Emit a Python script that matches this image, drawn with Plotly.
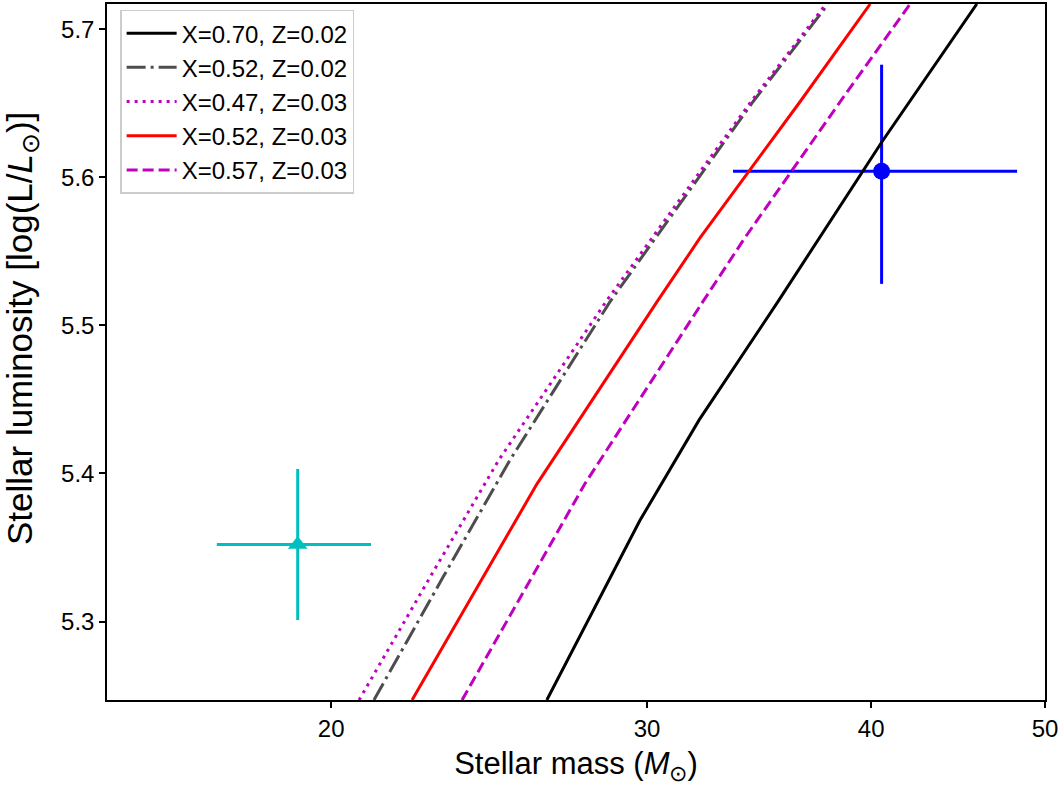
import math
import plotly.graph_objects as go

# ---- data ----
labels = ["X=0.70, Z=0.02", "X=0.52, Z=0.02", "X=0.47, Z=0.03", "X=0.52, Z=0.03", "X=0.57, Z=0.03"]

m_x70_z02 = [26.38, 29.72, 32.07, 35.49, 40.56, 45.81]
l_x70_z02 = [5.247, 5.368, 5.436, 5.516, 5.624, 5.717]

m_x52_z02 = [21.13, 23.09, 25.16, 28.61, 32.11, 34.37, 37.85]
l_x52_z02 = [5.247, 5.330, 5.409, 5.516, 5.601, 5.651, 5.717]

m_x47_z03 = [20.73, 22.71, 24.80, 28.46, 31.99, 34.28, 37.75]
l_x47_z03 = [5.247, 5.330, 5.409, 5.516, 5.601, 5.651, 5.717]

m_x52_z03 = [22.19, 26.05, 30.39, 32.11, 36.51, 39.95]
l_x52_z03 = [5.247, 5.393, 5.516, 5.559, 5.651, 5.717]

m_x57_z03 = [23.66, 27.70, 32.23, 34.01, 38.44, 42.05]
l_x57_z03 = [5.247, 5.393, 5.516, 5.559, 5.651, 5.717]

# observed points
star_a_mass = [40.54]
star_a_mass_err_plus = [7.70]
star_a_mass_err_minus = [7.04]
star_a_lum = [5.604]
star_a_lum_err_plus = [0.072]
star_a_lum_err_minus = [0.076]

star_b_mass = [19.16]
star_b_mass_err = [1.89]
star_b_lum = [5.352]
star_b_lum_err = [0.051]

x_ticks = [20, 30, 40, 50]
x_range = [15, 50]
y_range = [5.247, 5.717]

x_title = "Stellar mass (<i>M</i><sub>⊙</sub>)"
y_title = "Stellar luminosity [log(L/<i>L</i><sub>⊙</sub>)]"

FONT = "Liberation Sans, Arial, Helvetica, sans-serif"

fig = go.Figure()

# error-bar points
fig.add_trace(go.Scatter(
    x=star_b_mass, y=star_b_lum, mode="markers", showlegend=False,
    marker=dict(symbol="triangle-up", size=17, color="#00bfbf"),
    error_x=dict(type="data", array=star_b_mass_err, color="#00bfbf", thickness=3, width=0),
    error_y=dict(type="data", array=star_b_lum_err, color="#00bfbf", thickness=3, width=0),
))
fig.add_trace(go.Scatter(
    x=star_a_mass, y=star_a_lum, mode="markers", showlegend=False,
    marker=dict(symbol="circle", size=17, color="#0000ff"),
    error_x=dict(type="data", symmetric=False, array=star_a_mass_err_plus,
                 arrayminus=star_a_mass_err_minus, color="#0000ff", thickness=3, width=0),
    error_y=dict(type="data", symmetric=False, array=star_a_lum_err_plus,
                 arrayminus=star_a_lum_err_minus, color="#0000ff", thickness=3, width=0),
))

series = [
    (m_x70_z02, l_x70_z02, labels[0], "#000000", "solid"),
    (m_x52_z02, l_x52_z02, labels[1], "#4d4d4d", "19px,5px,3px,5px"),
    (m_x47_z03, l_x47_z03, labels[2], "#bf00bf", "3px,5px"),
    (m_x52_z03, l_x52_z03, labels[3], "#ff0000", "solid"),
    (m_x57_z03, l_x57_z03, labels[4], "#bf00bf", "11px,5px"),
]
for mx, ly, name, col, dash in series:
    fig.add_trace(go.Scatter(
        x=mx, y=ly, mode="lines", name=name,
        line=dict(color=col, width=3, dash=dash),
    ))

axis_common = dict(
    showgrid=False, zeroline=False, showline=True, linecolor="black", linewidth=1.5,
    mirror=True, ticks="outside", ticklen=6, tickwidth=1.5, tickcolor="black",
    tickfont=dict(family=FONT, size=24, color="black"),
)

fig.update_layout(
    width=1064, height=789,
    margin=dict(l=107, r=19, t=2, b=89),
    paper_bgcolor="white", plot_bgcolor="white",
    font=dict(family=FONT, color="black"),
    xaxis=dict(
        type="log", range=[math.log10(x_range[0]), math.log10(x_range[1])],
        tickvals=x_ticks, ticktext=[str(t) for t in x_ticks],
        title=dict(text=x_title, font=dict(family=FONT, size=31), standoff=12),
        **axis_common,
    ),
    yaxis=dict(
        range=y_range, dtick=0.1, tick0=5.3, tickformat=".1f",
        **axis_common,
    ),
    legend=dict(
        x=0.014, y=0.992, xanchor="left", yanchor="top",
        bgcolor="rgba(255,255,255,0.8)", bordercolor="#cccccc", borderwidth=1.5,
        font=dict(family=FONT, size=24, color="black"),
        tracegroupgap=0, itemwidth=50,
    ),
    showlegend=True,
    annotations=[dict(
        text=y_title, textangle=-90, showarrow=False,
        xref="paper", yref="paper", x=-0.0906, y=0.533,
        xanchor="center", yanchor="middle",
        font=dict(family=FONT, size=35, color="black"),
    )],
)

fig.write_html("out.html", config={"displayModeBar": False},
               post_script="document.body.style.margin='0px';")
